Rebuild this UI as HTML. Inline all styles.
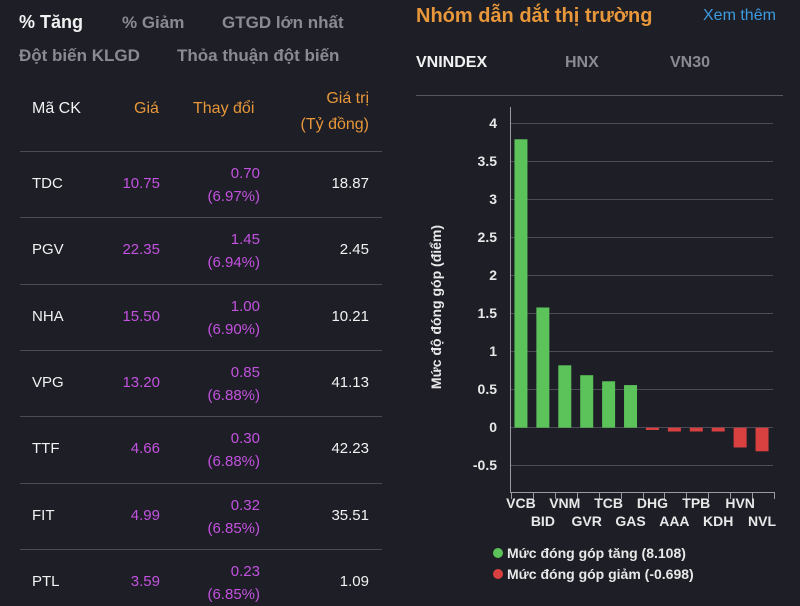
<!DOCTYPE html>
<html><head><meta charset="utf-8"><style>
body{margin:0;width:800px;height:600px;background:#1d1e26;overflow:hidden;font-family:"Liberation Sans",sans-serif;position:relative}
.t{position:absolute;white-space:nowrap}
.g{color:#8a8b92}
.o{color:#e8973a}
.p{color:#c452e0}
.w{color:#f2f2f2}
.hr{position:absolute;height:1px;background:#4a4b55}
.s{font-size:15px}
</style></head><body>
<div class="t w" style="left:19px;top:12px;font-size:18px;font-weight:bold">% Tăng</div>
<div class="t g" style="left:122px;top:13px;font-size:17px;font-weight:bold">% Giảm</div>
<div class="t g" style="left:222px;top:13px;font-size:17px;font-weight:bold">GTGD lớn nhất</div>
<div class="t g" style="left:19px;top:46px;font-size:17px;font-weight:bold">Đột biến KLGD</div>
<div class="t g" style="left:177px;top:46px;font-size:17px;font-weight:bold">Thỏa thuận đột biến</div>
<div class="t w" style="left:32px;top:100px;font-size:16px">Mã CK</div>
<div class="t o" style="left:134px;top:100px;font-size:16px">Giá</div>
<div class="t o" style="left:193px;top:100px;font-size:16px">Thay đổi</div>
<div class="t o" style="right:431px;top:86px;font-size:16px;text-align:right;line-height:26px">Giá trị<br>(Tỷ đồng)</div>
<div class="hr" style="left:20px;width:362px;top:151px"></div>
<div id="rows"></div>
<div class="t o" style="left:416px;top:5px;font-size:20px;font-weight:bold">Nhóm dẫn dắt thị trường</div>
<div class="t" style="left:703px;top:7px;font-size:16px;color:#3d9be0">Xem thêm</div>
<div class="t w" style="left:416px;top:54px;font-size:16px;font-weight:bold">VNINDEX</div>
<div class="t g" style="left:565px;top:54px;font-size:16px;font-weight:bold">HNX</div>
<div class="t g" style="left:670px;top:54px;font-size:16px;font-weight:bold">VN30</div>
<div class="hr" style="left:416px;width:367px;top:95px;background:#55565f"></div>
<svg style="position:absolute;left:0;top:0" width="800" height="600" font-family="Liberation Sans, sans-serif">
<g stroke="#4a4b55" stroke-width="1">
<line x1="510" x2="773" y1="123.5" y2="123.5"/><line x1="510" x2="773" y1="161.5" y2="161.5"/>
<line x1="510" x2="773" y1="199.5" y2="199.5"/><line x1="510" x2="773" y1="237.5" y2="237.5"/>
<line x1="510" x2="773" y1="275.5" y2="275.5"/><line x1="510" x2="773" y1="313.5" y2="313.5"/>
<line x1="510" x2="773" y1="351.5" y2="351.5"/><line x1="510" x2="773" y1="389.5" y2="389.5"/>
<line x1="510" x2="773" y1="427.5" y2="427.5"/><line x1="510" x2="773" y1="465.5" y2="465.5"/>
</g>
<g stroke="#9a9ba2"><line x1="510.5" x2="510.5" y1="107" y2="492"/><line x1="510" x2="774" y1="492.5" y2="492.5"/></g>
<g id="ticks" stroke="#9a9ba2"></g>
<g fill="#e8e8e8" font-size="14" font-weight="bold" text-anchor="end">
<text x="497" y="128">4</text><text x="497" y="166">3.5</text><text x="497" y="204">3</text><text x="497" y="242">2.5</text><text x="497" y="280">2</text><text x="497" y="318">1.5</text><text x="497" y="356">1</text><text x="497" y="394">0.5</text><text x="497" y="432">0</text><text x="497" y="470">-0.5</text>
</g>
<text transform="translate(441,307) rotate(-90)" fill="#e8e8e8" font-size="14" font-weight="bold" text-anchor="middle">Mức độ đóng góp (điểm)</text>
<g id="bars"></g>
<g id="xl" fill="#e8e8e8" font-size="14" font-weight="bold" text-anchor="middle"></g>
<circle cx="498" cy="553" r="5" fill="#5cc25a"/><circle cx="498" cy="574" r="5" fill="#d94040"/>
<text x="507" y="558" fill="#e8e8e8" font-size="14" font-weight="bold">Mức đóng góp tăng (8.108)</text>
<text x="507" y="579" fill="#e8e8e8" font-size="14" font-weight="bold">Mức đóng góp giảm (-0.698)</text>
</svg>
<script>
var rows=[["TDC","10.75","0.70","(6.97%)","18.87"],["PGV","22.35","1.45","(6.94%)","2.45"],["NHA","15.50","1.00","(6.90%)","10.21"],["VPG","13.20","0.85","(6.88%)","41.13"],["TTF","4.66","0.30","(6.88%)","42.23"],["FIT","4.99","0.32","(6.85%)","35.51"],["PTL","3.59","0.23","(6.85%)","1.09"]];
var h="";rows.forEach(function(r,i){var y=151+i*66.3;
h+='<div class="t w s" style="left:32px;top:'+(y+24)+'px">'+r[0]+'</div>';
h+='<div class="t p s" style="right:640px;top:'+(y+24)+'px">'+r[1]+'</div>';
h+='<div class="t p s" style="right:540px;top:'+(y+11)+'px;text-align:right;line-height:23px">'+r[2]+'<br>'+r[3]+'</div>';
h+='<div class="t w s" style="right:431px;top:'+(y+24)+'px">'+r[4]+'</div>';
if(i<6)h+='<div class="hr" style="left:20px;width:362px;top:'+Math.round(y+66.3)+'px"></div>';});
document.getElementById("rows").innerHTML=h;
var n=["VCB","BID","VNM","GVR","TCB","GAS","DHG","AAA","TPB","KDH","HVN","NVL"],v=[3.79,1.58,0.82,0.69,0.61,0.56,-0.03,-0.05,-0.05,-0.05,-0.26,-0.31];
var b="",t="",x="",sw=263/12;
for(var i=0;i<12;i++){var c=510+sw*i+sw/2,y0=427.7,y1=y0-v[i]*76.1;
b+='<rect x="'+(c-6.5)+'" y="'+Math.min(y0,y1)+'" width="13" height="'+Math.max(1.5,Math.abs(y1-y0))+'" fill="'+(v[i]>0?'#5cc25a':'#d94040')+'"/>';
x+='<text x="'+c+'" y="'+(i%2?526:508)+'">'+n[i]+'</text>';}
for(var i=0;i<=12;i++){var tx=Math.round(511+sw*i)+.5;t+='<line x1="'+tx+'" x2="'+tx+'" y1="492" y2="499"/>';}
document.getElementById("bars").innerHTML=b;document.getElementById("ticks").innerHTML=t;document.getElementById("xl").innerHTML=x;
</script>
</body></html>
